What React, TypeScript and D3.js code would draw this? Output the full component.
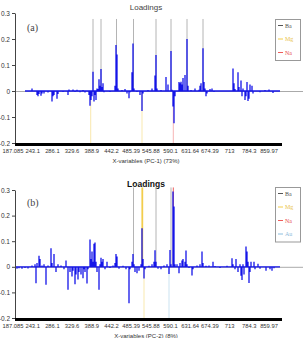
import React, { useEffect, useRef } from "react";
import * as d3 from "d3";

type Peak = [number, number];
type Mark = [string, number, number]; // element, variable index, 1 = above zero, -1 = below

const nVars = 266;

const xLabels = ["187.085", "243.1", "286.1", "329.6", "388.9", "442.2", "485.39", "545.88", "590.1", "631.64", "674.39", "713", "784.3", "859.97"];
const yTicks = [0.3, 0.2, 0.1, 0, -0.1, -0.2];

const elementColors: Record<string, string> = {
    Ba: "#b4b4b4",
    Mg: "#f2cd4c",
    Na: "#ee5c5c",
    Au: "#8cbfe0",
};
const legendText: Record<string, string> = {
    Ba: "#555",
    Mg: "#e9c24a",
    Na: "#e85050",
    Au: "#92bcdb",
};

// PC-1 loadings (variable index, loading)
const pc1Span = [10, 265];
const pc1Peaks: Peak[] = [
    [17, 0.01], [22, -0.015], [23, -0.02], [24, -0.012], [26, -0.018], [27, -0.01],
    [29, -0.01], [33, -0.006], [37, -0.04], [38, -0.02], [39, -0.015], [42, -0.03], [43, -0.012],
    [48, -0.004], [53, -0.015], [54, 0.006], [58, 0.006], [60, -0.004], [62, 0.005], [65, -0.005],
    [68, 0.004], [70, -0.006], [74, -0.015], [75, -0.057], [76, -0.035], [77, -0.02], [78, 0.074],
    [79, -0.04], [80, -0.015], [81, -0.035], [82, 0.01], [83, 0.008], [84, 0.045], [85, 0.02],
    [86, 0.085], [87, 0.015], [88, 0.03], [89, -0.005], [92, 0.003], [95, -0.004],
    [100, 0.02], [101, 0.177], [102, 0.14], [103, 0.01], [107, 0.004], [110, 0.008], [112, -0.01],
    [114, -0.028], [115, -0.005], [117, 0.072], [118, 0.183], [119, 0.01], [122, -0.004],
    [125, -0.015], [127, -0.077], [128, -0.01], [133, 0.004], [137, 0.01], [140, 0.06], [141, 0.138],
    [142, 0.01], [146, 0.004], [151, 0.054], [153, 0.025], [156, 0.154], [157, 0.005], [158, -0.06],
    [159, -0.124], [160, -0.02], [164, 0.035], [165, 0.03], [166, 0.036], [167, 0.025], [168, 0.05],
    [170, 0.062], [172, 0.2], [173, 0.02], [176, 0.004], [180, 0.01], [184, 0.005], [185, 0.02],
    [186, 0.03], [188, 0.164], [189, 0.035], [190, 0.01], [191, -0.02], [192, -0.01], [195, 0.008],
    [197, 0.01], [199, -0.004], [205, 0.003], [212, 0.003], [218, 0.087], [219, 0.03], [220, 0.008],
    [223, 0.072], [224, 0.015], [226, 0.04], [227, -0.02], [228, 0.01], [230, -0.035], [231, -0.02],
    [232, 0.035], [233, -0.038], [234, -0.03], [235, 0.025], [237, 0.02], [238, -0.01],
    [245, -0.005], [250, 0.004], [254, 0.006], [258, -0.008],
];
const pc1Marks: Mark[] = [
    ["Ba", 78, 1], ["Ba", 86, 1], ["Ba", 101.5, 1], ["Ba", 118.5, 1], ["Ba", 141, 1],
    ["Ba", 156, 1], ["Ba", 172, 1], ["Ba", 188, 1],
    ["Mg", 75.7, -1], ["Mg", 127, -1], ["Na", 158.3, -1],
];

// PC-2 loadings
const pc2Span = [0, 265];
const pc2Peaks: Peak[] = [
    [2, -0.008], [4, -0.006], [7, -0.008], [10, -0.005], [13, -0.007], [17, 0.005], [20, 0.01],
    [21, -0.064], [22, 0.015], [24, 0.043], [25, 0.03], [27, 0.005], [29, 0.01], [31, -0.07],
    [33, 0.005], [36, 0.072], [37, 0.015], [39, 0.05], [41, -0.02], [43, 0.01], [46, 0.005],
    [49, -0.01], [51, 0.025], [53, -0.09], [55, -0.02], [57, -0.038], [58, -0.015], [60, -0.068],
    [61, -0.03], [63, -0.05], [64, -0.02], [66, -0.03], [68, -0.045], [69, -0.01], [70, -0.02],
    [72, -0.065], [73, -0.01], [75, 0.107], [76, 0.03], [77, 0.06], [78, 0.02], [79, 0.09],
    [80, 0.095], [81, 0.02], [82, -0.02], [84, -0.09], [85, 0.01], [86, 0.035], [87, 0.02],
    [88, 0.03], [90, -0.01], [92, 0.02], [95, -0.005], [98, 0.005], [100, 0.015], [101, 0.05],
    [102, 0.04], [104, -0.008], [108, 0.004], [111, -0.01], [114, -0.142], [115, -0.01],
    [117, 0.02], [118, 0.05], [119, 0.01], [120, -0.02], [122, -0.025], [124, -0.015], [126, 0.01],
    [127, 0.151], [128, 0.03], [129, -0.046], [130, -0.01], [134, 0.004], [137, 0.01], [139, 0.02],
    [140, 0.065], [141, 0.02], [143, -0.008], [146, -0.01], [149, 0.005], [152, 0.01],
    [154, -0.028], [155, 0.066], [156, 0.01], [158, 0.294], [159, 0.236], [160, 0.01], [162, 0.01],
    [164, -0.025], [165, 0.015], [167, 0.025], [168, 0.03], [170, 0.02], [171, 0.064], [172, 0.01],
    [174, -0.005], [177, -0.034], [178, -0.01], [182, 0.005], [185, 0.01], [187, 0.06],
    [188, 0.015], [191, 0.004], [194, 0.005], [198, 0.02], [200, 0.003], [205, -0.005],
    [212, 0.004], [217, 0.033], [218, 0.01], [220, -0.01], [221, 0.03], [223, -0.02], [225, 0.01],
    [226, -0.035], [227, -0.052], [228, 0.01], [229, -0.03], [231, 0.079], [232, 0.06], [233, 0.02],
    [234, -0.063], [235, -0.02], [236, 0.02], [239, 0.02], [240, -0.01], [243, 0.012], [245, -0.008],
    [251, -0.015], [255, -0.01], [257, -0.015], [259, -0.006],
];
const pc2Marks: Mark[] = [
    ["Ba", 118.5, 1], ["Mg", 127.3, 1], ["Mg", 129, -1], ["Ba", 141, 1],
    ["Au", 154, -1], ["Ba", 156, 1], ["Na", 158.3, 1],
];

const panels = [
    {
        tag: "(a)", peaks: pc1Peaks, span: pc1Span, marks: pc1Marks,
        legend: ["Ba", "Mg", "Na"], axisTitle: "X-variables (PC-1) (73%)",
        yTop: 13, yBottom: 143, titleY: 10, titleBold: false, tagY: 31,
        labelY: 152.5, axisTitleY: 162.5, legendTop: 19, lineTop: 0.277,
    },
    {
        tag: "(b)", peaks: pc2Peaks, span: pc2Span, marks: pc2Marks,
        legend: ["Ba", "Mg", "Na", "Au"], axisTitle: "X-variables (PC-2) (8%)",
        yTop: 190, yBottom: 318, titleY: 186.5, titleBold: true, tagY: 206,
        labelY: 327.5, axisTitleY: 337.5, legendTop: 187, lineTop: 0.31,
    },
];

const sans = "'Liberation Sans', Arial, sans-serif";
const serif = "'Liberation Serif', 'Times New Roman', serif";

function drawPanel(svg: any, p: any) {
    const x = d3.scaleLinear().domain([0, nVars]).range([15, 281]);
    const y = d3.scaleLinear().domain([-0.2, 0.3]).range([p.yBottom, p.yTop]);
    const g = svg.append("g");

    g.append("text")
        .attr("x", 146).attr("y", p.titleY)
        .attr("text-anchor", "middle")
        .attr("font-family", sans)
        .attr("font-size", p.titleBold ? 8.5 : 8)
        .attr("font-weight", p.titleBold ? "bold" : "normal")
        .attr("fill", p.titleBold ? "#111" : "#444")
        .text("Loadings");

    // zero reference
    g.append("line")
        .attr("x1", 15).attr("x2", 303)
        .attr("y1", y(0) + 0.5).attr("y2", y(0) + 0.5)
        .attr("stroke", "#aaa");

    // element emission lines
    p.marks.forEach(([el, v, dir]: Mark) => {
        g.append("line")
            .attr("x1", x(v)).attr("x2", x(v))
            .attr("y1", y(0))
            .attr("y2", dir > 0 ? y(p.lineTop) : y(-0.2))
            .attr("stroke", elementColors[el])
            .attr("stroke-opacity", dir > 0 ? 1 : 0.45)
            .attr("stroke-width", el === "Mg" && dir > 0 ? 1.8 : 1);
    });

    // loadings spectrum
    const pts: [number, number][] = [[p.span[0], 0]];
    p.peaks.forEach(([i, v]: Peak) => { pts.push([i, 0], [i, v], [i, 0]); });
    pts.push([p.span[1], 0]);
    const line = d3.line<[number, number]>()
        .x(d => x(d[0]))
        .y(d => y(d[1]));
    g.append("path")
        .attr("d", line(pts))
        .attr("fill", "none")
        .attr("stroke", "#1414e8")
        .attr("stroke-width", 1.3);

    // y axis
    const yAxis = g.append("g")
        .attr("transform", "translate(15,0)")
        .call(d3.axisLeft(y).tickValues(yTicks).tickSize(3).tickSizeOuter(0)
            .tickFormat((d: any) => d === 0 ? "0" : String(Math.round(d * 10) / 10)));
    yAxis.selectAll("text").attr("font-family", sans).attr("font-size", 6.5).attr("fill", "#333").attr("dx", 1);
    yAxis.selectAll("line,path").attr("stroke", "#444");

    // x axis: one tick per variable, which piles up into a solid bar
    const xAxis = g.append("g")
        .attr("transform", `translate(0,${p.yBottom})`)
        .call(d3.axisBottom(x).tickValues(d3.range(0, nVars + 1)).tickSize(3).tickSizeOuter(0).tickFormat(() => ""));
    xAxis.selectAll("line,path").attr("stroke", "#000");

    const lx = d3.scalePoint<string>().domain(xLabels).range([13, 269]);
    g.append("g").selectAll("text")
        .data(xLabels)
        .join("text")
        .attr("x", (d: string) => lx(d))
        .attr("y", p.labelY)
        .attr("text-anchor", "middle")
        .attr("font-family", sans)
        .attr("font-size", 5.8)
        .attr("fill", "#333")
        .text((d: string) => d);

    g.append("text")
        .attr("x", 146).attr("y", p.axisTitleY)
        .attr("text-anchor", "middle")
        .attr("font-family", sans)
        .attr("font-size", 6)
        .attr("fill", "#333")
        .text(p.axisTitle);

    g.append("text")
        .attr("x", 27).attr("y", p.tagY)
        .attr("font-family", serif)
        .attr("font-size", 10)
        .attr("fill", "#444")
        .text(p.tag);

    // legend
    const step = 13.5;
    const lg = g.append("g").attr("transform", `translate(275,${p.legendTop})`);
    lg.append("rect")
        .attr("x", 0.5).attr("y", 0.5)
        .attr("width", 25).attr("height", p.legend.length * step + 0.5)
        .attr("fill", "#fff")
        .attr("stroke", "#999");
    p.legend.forEach((el: string, i: number) => {
        const cy = 6.5 + i * step;
        lg.append("line")
            .attr("x1", 3).attr("x2", 8)
            .attr("y1", cy).attr("y2", cy)
            .attr("stroke", el === "Ba" ? "#555" : elementColors[el])
            .attr("stroke-width", 1);
        lg.append("text")
            .attr("x", 10).attr("y", cy + 2)
            .attr("font-family", serif)
            .attr("font-size", 6)
            .attr("fill", legendText[el])
            .text(el);
    });
}

export default function App() {
    const ref = useRef<SVGSVGElement>(null);

    useEffect(() => {
        const svg = d3.select(ref.current);
        svg.selectAll("*").remove();
        panels.forEach(p => drawPanel(svg, p));
    }, []);

    return (
        <svg
            ref={ref}
            width={306}
            height={338}
            style={{ position: "absolute", left: 0, top: 0, background: "#fff" }}
        />
    );
}
